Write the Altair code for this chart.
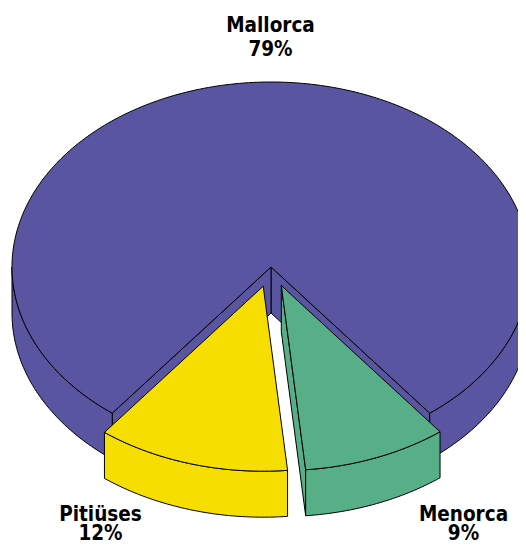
import math
import altair as alt
import pandas as pd

# ---- data ----
names = ["Mallorca", "Pitiüses", "Menorca"]
shares = [79, 12, 9]
colors = ["#5955A0", "#F6DE00", "#56AF86"]

# ---- style / geometry (pixels in chart space) ----
explode = {"Mallorca": 0.0, "Pitiüses": 0.108, "Menorca": 0.108}
CX, CY = 263, 259
RX, RY = 259, 185
DEPTH = 46
label_x = {"Mallorca": 262.5, "Pitiüses": 92.5, "Menorca": 455.5}
label_y = {"Mallorca": 24, "Pitiüses": 513, "Menorca": 513}

total = float(sum(shares))
share = dict(zip(names, shares))
# angular order (parametric angle, 0 = toward viewer) starting on the left of the front gap
ang_order = ["Pitiüses", "Menorca", "Mallorca"]
start = -(share["Pitiüses"] + share["Menorca"]) / total * 180.0
spans = {}
a = start
for n in ang_order:
    b = a + share[n] / total * 360.0
    spans[n] = (a, b)
    a = b


def P(ox, oy, phi, dz=0.0):
    r = math.radians(phi)
    return [round(ox + RX * math.sin(r), 2), round(oy + RY * math.cos(r) + dz, 2)]


def arc(ox, oy, a0, a1, dz=0.0):
    steps = max(2, int(abs(a1 - a0)))
    return [P(ox, oy, a0 + (a1 - a0) * i / steps, dz) for i in range(steps + 1)]


features = []


def add(poly, name, part):
    poly = poly + [poly[0]]
    features.append({"type": "Feature",
                     "properties": {"name": name, "part": part},
                     "geometry": {"type": "Polygon", "coordinates": [poly]}})


for n in ["Mallorca", "Pitiüses", "Menorca"]:
    a0, a1 = spans[n]
    mid = math.radians((a0 + a1) / 2)
    e = explode[n]
    ox = CX + e * RX * math.sin(mid)
    oy = CY + e * RY * math.cos(mid)
    c_top = [round(ox, 2), round(oy, 2)]
    c_bot = [round(ox, 2), round(oy + DEPTH, 2)]
    # cut faces facing the viewer
    if math.sin(math.radians(a0)) > 0:
        add([c_top, P(ox, oy, a0), P(ox, oy, a0, DEPTH), c_bot], n, "cut0")
    if math.sin(math.radians(a1)) < 0:
        add([c_top, P(ox, oy, a1), P(ox, oy, a1, DEPTH), c_bot], n, "cut1")
    # visible outer wall
    for k in (-1, 0, 1):
        lo = max(a0, -90 + 360 * k)
        hi = min(a1, 90 + 360 * k)
        if hi > lo:
            add(arc(ox, oy, lo, hi) + arc(ox, oy, hi, lo, DEPTH), n, "wall")
    # top face
    add([c_top] + arc(ox, oy, a0, a1), n, "top")

pie = alt.Chart(alt.Data(values=features)).mark_geoshape(
    stroke="black", strokeWidth=1, strokeJoin="miter"
).encode(
    color=alt.Color("properties.name:N",
                    scale=alt.Scale(domain=names, range=colors), legend=None)
).project(type="identity", scale=1, translate=[0, 0])

labels_df = pd.DataFrame({
    "name": names,
    "label": [f"{n}\n{s}%" for n, s in zip(names, shares)],
    "lx": [label_x[n] for n in names],
    "ly": [label_y[n] for n in names],
})

text_style = dict(font="DejaVu Sans Condensed", fontWeight="bold", fontSize=20.5,
                  lineBreak="\n", align="center", baseline="alphabetic",
                  color="black")
enc = dict(x=alt.X("lx:Q", scale=None), y=alt.Y("ly:Q", scale=None),
           text="label:N")

top_label = alt.Chart(labels_df).transform_filter(
    alt.datum.name == "Mallorca"
).mark_text(lineHeight=24, **text_style).encode(**enc)

bottom_labels = alt.Chart(labels_df).transform_filter(
    alt.datum.name != "Mallorca"
).mark_text(lineHeight=19, **text_style).encode(**enc)

chart = alt.layer(pie, top_label, bottom_labels).properties(
    width=510, height=533, autosize="none", padding=0
).configure_view(stroke=None)

chart.save("out.html", embed_options={"renderer": "svg", "actions": False})
